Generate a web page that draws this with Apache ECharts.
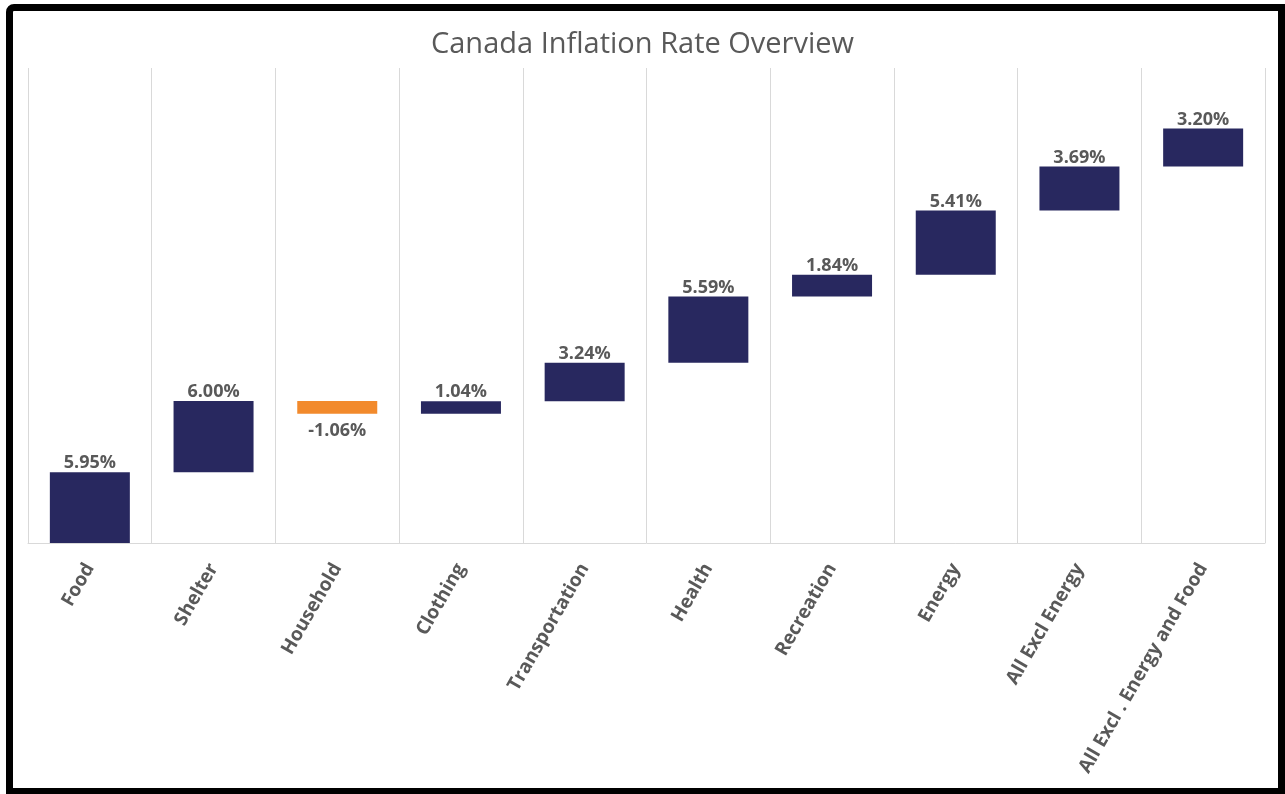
<!DOCTYPE html>
<html><head><meta charset="utf-8">
<script src="https://cdn.jsdelivr.net/npm/echarts@6/dist/echarts.min.js"></script>
<style>
html,body{margin:0;padding:0;background:#fff;}
#chart{position:absolute;left:0;top:0;width:1285px;height:794px;}
#frame{position:absolute;left:6px;top:4px;width:1265px;height:777px;border-left:7px solid #000;border-top:7px solid #000;border-right:7px solid #000;border-bottom:6px solid #000;border-radius:8px 0 0 0;pointer-events:none;}
</style></head>
<body>
<div id="chart"></div>
<div id="frame"></div>
<script>
const categories = ['Food','Shelter','Household','Clothing','Transportation','Health','Recreation','Energy','All Excl Energy','All Excl . Energy and Food'];
const values = [5.95, 6.00, -1.06, 1.04, 3.24, 5.59, 1.84, 5.41, 3.69, 3.20];

const base = [], heights = [];
let cum = 0;
values.forEach(v => {
  if (v >= 0) { base.push(cum); heights.push(v); cum += v; }
  else { cum += v; base.push(cum); heights.push(-v); }
});

const chart = echarts.init(document.getElementById('chart'));
chart.setOption({
  animation: false,
  title: {
    text: 'Canada Inflation Rate Overview',
    left: 'center', top: 25,
    textStyle: { color: '#595959', fontSize: 29, fontWeight: 'normal', fontFamily: 'Open Sans' }
  },
  grid: { left: 28, right: 20, top: 68, bottom: 251 },
  xAxis: {
    type: 'category', data: categories,
    axisLine: { lineStyle: { color: '#d9d9d9' } },
    axisTick: { show: false },
    splitLine: { show: true, interval: 0, lineStyle: { color: '#d9d9d9', width: 1 } },
    axisLabel: { interval: 0, rotate: 60, margin: 22, color: '#595959', fontSize: 19, fontWeight: 'bold', fontFamily: 'Open Sans' }
  },
  yAxis: { type: 'value', min: 0, max: 40, show: false, splitLine: { show: false } },
  series: [
    { type: 'bar', stack: 'w', data: base, itemStyle: { color: 'transparent' }, barWidth: 80, silent: true },
    { type: 'bar', stack: 'w', barWidth: 80,
      data: heights.map((h, i) => ({
        value: h,
        itemStyle: { color: values[i] < 0 ? '#F28A2C' : '#28285F' },
        label: values[i] < 0 ? { position: 'bottom', distance: 8 } : { position: 'top', distance: 0 }
      })),
      label: {
        show: true, color: '#595959', fontSize: 18, fontWeight: 'bold', fontFamily: 'Open Sans',
        formatter: p => values[p.dataIndex].toFixed(2) + '%'
      }
    }
  ]
});
</script>
</body></html>
